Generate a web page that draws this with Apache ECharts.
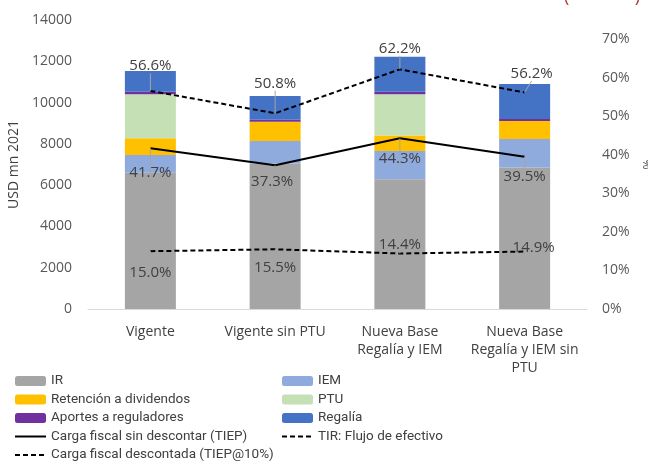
<!DOCTYPE html>
<html>
<head>
<meta charset="utf-8">
<script src="https://cdn.jsdelivr.net/npm/echarts@6/dist/echarts.min.js"></script>
<style>
  html, body { margin: 0; padding: 0; background: #fff; }
  #main { width: 648px; height: 462px; }
</style>
</head>
<body>
<div id="main"></div>
<script>
// categorias
var categories = ["Vigente", "Vigente sin PTU", "Nueva Base\nRegalía y IEM", "Nueva Base\nRegalía y IEM sin\nPTU"];

// componentes (USD mn 2021)
var ir = [6600, 7050, 6280, 6850];
var iem = [860, 1090, 1370, 1390];
var retencion = [810, 930, 750, 870];
var ptu = [2130, 0, 2000, 0];
var aportes = [130, 100, 130, 100];
var regalia = [1000, 1150, 1690, 1690];

// lineas (%)
var tiep = [41.7, 37.3, 44.3, 39.5];
var tir = [56.6, 50.8, 62.2, 56.2];
var tiep10 = [15.0, 15.5, 14.4, 14.9];

var txt = "#404040";
var font = "Open Sans";
var legFont = "Roboto";

// posicion de etiquetas [dx, dy] respecto al punto
function pts(vals, offs) {
    return vals.map(function (v, i) {
        return {
            value: v,
            label: { offset: offs[i] }
        };
    });
}

var myChart = echarts.init(document.getElementById("main"));

function bar(name, data, color) {
    return {
        name: name,
        type: "bar",
        stack: "total",
        barWidth: 51,
        data: data,
        itemStyle: { color: color }
    };
}

function line(name, data, dash, offs) {
    return {
        name: name,
        type: "line",
        yAxisIndex: 1,
        data: pts(data, offs),
        symbol: "circle",
        symbolSize: 0,
        z: 5,
        lineStyle: { color: "#000", width: 2, type: dash ? [5, 3] : "solid" },
        itemStyle: { color: "#000" },
        label: {
            show: true,
            position: "inside",
            fontFamily: font,
            fontSize: 15,
            color: txt,
            formatter: function (p) { return p.value.toFixed(1) + "%"; }
        },
        labelLine: { show: true, lineStyle: { color: "#a6a6a6", width: 1 } }
    };
}

var legendText = { fontFamily: legFont, fontSize: 13.5, color: txt };

var option = {
    animation: false,
    textStyle: { fontFamily: font },
    grid: { left: 88, right: 61, top: 20, bottom: 153, outerBoundsMode: "none" },
    legend: [{
        orient: "vertical",
        left: 9,
        top: 369,
        height: 120,
        itemWidth: 31,
        itemHeight: 10,
        itemGap: 4.5,
        textStyle: legendText,
        data: [
            "IR", "Retención a dividendos", "Aportes a reguladores",
            { name: "Carga fiscal sin descontar (TIEP)", itemStyle: { opacity: 0 } },
            { name: "Carga fiscal descontada (TIEP@10%)", itemStyle: { opacity: 0 } }
        ]
    }, {
        orient: "vertical",
        left: 276,
        top: 369,
        height: 120,
        itemWidth: 31,
        itemHeight: 10,
        itemGap: 4.5,
        textStyle: legendText,
        data: [
            "IEM", "PTU", "Regalía",
            { name: "TIR: Flujo de efectivo", itemStyle: { opacity: 0 } }
        ]
    }],
    xAxis: {
        type: "category",
        data: categories,
        axisLine: { lineStyle: { color: "#d9d9d9" } },
        axisTick: { show: false },
        axisLabel: { color: txt, fontSize: 14, lineHeight: 18, margin: 14, interval: 0 }
    },
    yAxis: [{
        type: "value",
        min: 0,
        max: 14000,
        interval: 2000,
        name: "USD mn 2021",
        nameLocation: "middle",
        nameGap: 58,
        nameTextStyle: { color: txt, fontSize: 14 },
        splitLine: { show: false },
        axisLabel: { color: "#595959", fontSize: 14, margin: 16,
            formatter: function (v) { return String(v); } }
    }, {
        type: "value",
        min: 0,
        max: 75,
        interval: 10,
        name: "%",
        nameLocation: "middle",
        nameRotate: -90,
        nameGap: 50,
        nameTextStyle: { color: txt, fontSize: 12 },
        splitLine: { show: false },
        axisLabel: { color: "#595959", fontSize: 14, margin: 15, showMaxLabel: false,
            formatter: function (v) { return v + "%"; } }
    }],
    graphic: [{
        type: "text",
        right: 8,
        top: -12,
        style: { text: "(              )", fill: "#b23a3a", fontSize: 18, fontFamily: font }
    }],
    series: [
        bar("IR", ir, "#a5a5a5"),
        bar("IEM", iem, "#8faadc"),
        bar("Retención a dividendos", retencion, "#ffc000"),
        bar("PTU", ptu, "#c5e0b4"),
        bar("Aportes a reguladores", aportes, "#7030a0"),
        bar("Regalía", regalia, "#4472c4"),
        line("Carga fiscal sin descontar (TIEP)", tiep, false, [[0, 24], [-3, 16], [0, 20], [0, 20]]),
        line("TIR: Flujo de efectivo", tir, true, [[0, -25], [0, -30], [0, -21], [7, -19]]),
        line("Carga fiscal descontada (TIEP@10%)", tiep10, true, [[0, 22], [0, 18], [0, -9], [9, -4]])
    ]
};
myChart.setOption(option);
</script>
</body>
</html>
